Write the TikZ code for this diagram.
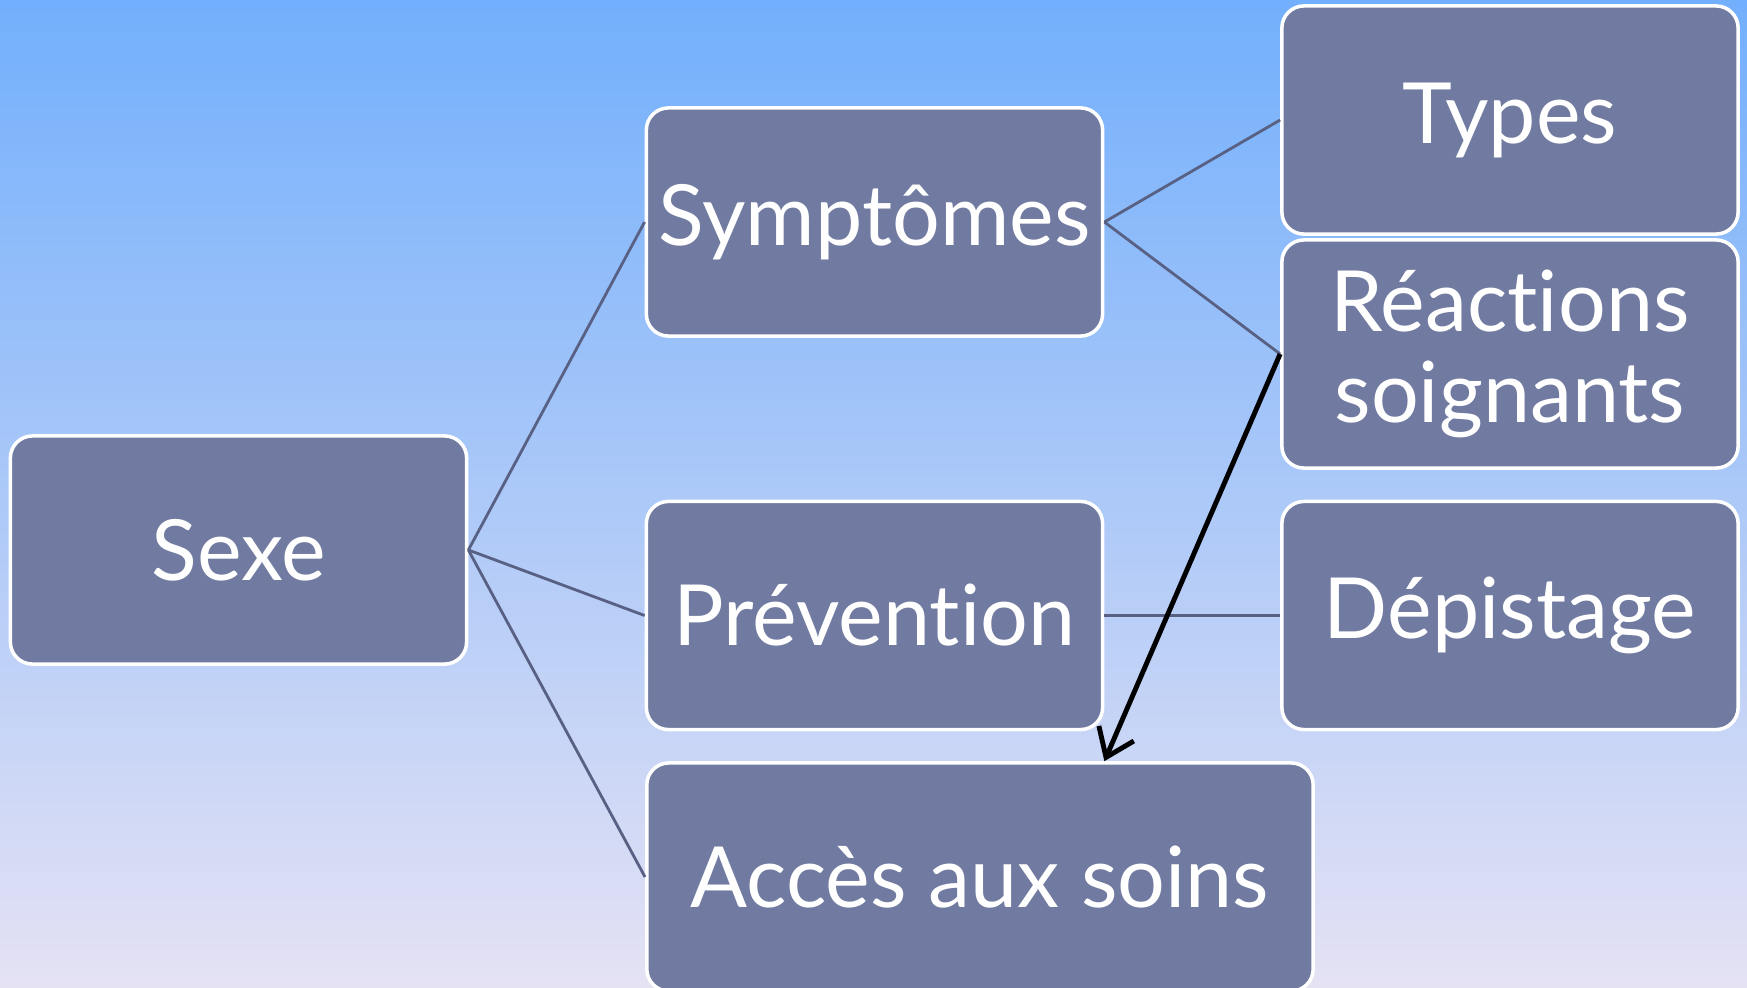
\documentclass[tikz,border=0pt]{standalone}
\usepackage{fontspec}
\setmainfont{Lato}[Ligatures=NoCommon]
\usetikzlibrary{arrows.meta}

\definecolor{fondhaut}{RGB}{114,175,252}
\definecolor{fondmilieu}{RGB}{165,201,241}
\definecolor{fondbas}{RGB}{229,226,244}
\definecolor{bloccol}{RGB}{113,122,160}
\definecolor{liencol}{RGB}{88,96,132}

\begin{document}
\begin{tikzpicture}[x=0.01cm,y=-0.01cm]
        \tikzset{bloc/.style={draw=white,line width=1pt,fill=bloccol,rounded corners=0.22cm,minimum width=4.56cm,minimum height=2.28cm,inner sep=0pt,text=white,align=center,font=\fontsize{24}{26}\selectfont},
            lien/.style={draw=liencol,line width=0.8pt}};
        \useasboundingbox (0,0) rectangle (1747,987);
        \clip (0,0) rectangle (1747,987);
        \shade[top color=fondhaut,middle color=fondmilieu,bottom color=fondbas] (0,0) rectangle (1747,987);
        % les blocs
        \node[bloc] (sexe) at (238.5,550) {Sexe};
        \node[bloc] (symptomes) at (874.5,222) {Symptômes};
        \node[bloc] (prevention) at (874.5,615.5) {Prévention};
        \node[bloc,minimum width=6.66cm] (acces) at (980,877) {Accès aux soins};
        \node[bloc] (types) at (1510,120) {Types};
        \node[bloc] (reactions) at (1510,354) {Réactions\\soignants};
        \node[bloc] (depistage) at (1510,615.5) {Dépistage};
        % les liens
        \draw[lien] (sexe.east) -- (symptomes.west);
        \draw[lien] (sexe.east) -- (prevention.west);
        \draw[lien] (sexe.east) -- (acces.west);
        \draw[lien] (symptomes.east) -- (types.west);
        \draw[lien] (symptomes.east) -- (reactions.west);
        \draw[lien] (prevention.east) -- (depistage.west);
        \draw[line width=1.4pt,-{Straight Barb[length=2.6mm,width=3.8mm]}] (reactions.west) -- (prevention.east |- acces.north);
    \end{tikzpicture}
\end{document}
